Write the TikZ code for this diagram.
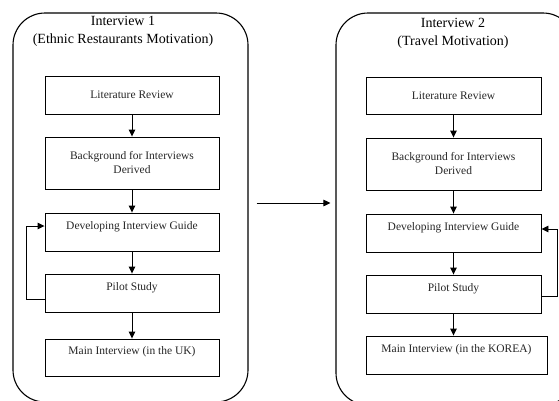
\documentclass[tikz,border=0pt]{standalone}
\usepackage{fontspec}
\setmainfont{Liberation Serif}
\usetikzlibrary{arrows.meta,calc}
\begin{document}
\begin{tikzpicture}[x=1pt,y=-1pt,
  container/.style={draw, line width=1.1pt, rounded corners=32pt, inner sep=0pt},
  stepbox/.style={draw, line width=0.9pt, inner sep=0pt, align=center, text=black!85,
    font=\fontsize{11.5}{14}\selectfont},
  upper/.style={text height=8.5pt, text depth=14.5pt},
  title/.style={align=center, font=\fontsize{14}{18}\selectfont},
  arr/.style={line width=0.9pt, -{Triangle[length=7pt,width=6.5pt]}}]
\useasboundingbox (0,0) rectangle (559,400);
\begin{scope}
\clip (0,0) rectangle (559,400);
\node[container, minimum width=235pt, minimum height=389pt] (c1) at (130.5,207.5) {};
\node[container, minimum width=239pt, minimum height=392pt] (c2) at (455.5,209) {};
\end{scope}
% titles
\node[title] (t1) at (123,31) {Interview 1\\(Ethnic Restaurants Motivation)};
\node[title] (t2) at (453,33) {Interview 2\\(Travel Motivation)};
% left column
\node[stepbox, minimum width=174pt, minimum height=38pt] (l1) at (132,95) {Literature Review};
\node[stepbox, minimum width=174pt, minimum height=52pt] (l2) at (132,163) {Background for Interviews\\Derived};
\node[stepbox, upper, minimum width=174pt, minimum height=38pt] (l3) at (132,232) {Developing Interview Guide};
\node[stepbox, upper, minimum width=174pt, minimum height=38pt] (l4) at (132,293) {Pilot Study};
\node[stepbox, upper, minimum width=174pt, minimum height=37pt] (l5) at (132,357.5) {Main Interview (in the UK)};
\draw[arr] (l1) -- (l2);
\draw[arr] (l2) -- (l3);
\draw[arr] (l3) -- (l4);
\draw[arr] (l4) -- (l5);
\draw[arr] ([yshift=-6pt]l4.west) -- ++(-18,0) |- ([yshift=6pt]l3.west);
% right column
\node[stepbox, minimum width=175pt, minimum height=37pt] (r1) at (453.5,95.5) {Literature Review};
\node[stepbox, minimum width=175pt, minimum height=52pt] (r2) at (453.5,164) {Background for Interviews\\Derived};
\node[stepbox, upper, minimum width=175pt, minimum height=38pt] (r3) at (453.5,233) {Developing Interview Guide};
\node[stepbox, upper, minimum width=175pt, minimum height=38pt] (r4) at (453.5,294) {Pilot Study};
\node[stepbox, upper, minimum width=181pt, minimum height=38pt] (r5) at (456.5,355) {Main Interview (in the KOREA)};
\draw[arr] (r1) -- (r2);
\draw[arr] (r2) -- (r3);
\draw[arr] (r3) -- (r4);
\draw[arr] (r4.south) -- (r4.south |- r5.north);
\draw[arr] ([yshift=-2pt]r4.east) -- ++(16,0) |- ([yshift=4pt]r3.east);
% middle arrow
\coordinate (m) at (0,203);
\draw[arr, shorten >=5pt] ([xshift=8pt]c1.east |- m) -- (c2.west |- m);
\end{tikzpicture}
\end{document}
